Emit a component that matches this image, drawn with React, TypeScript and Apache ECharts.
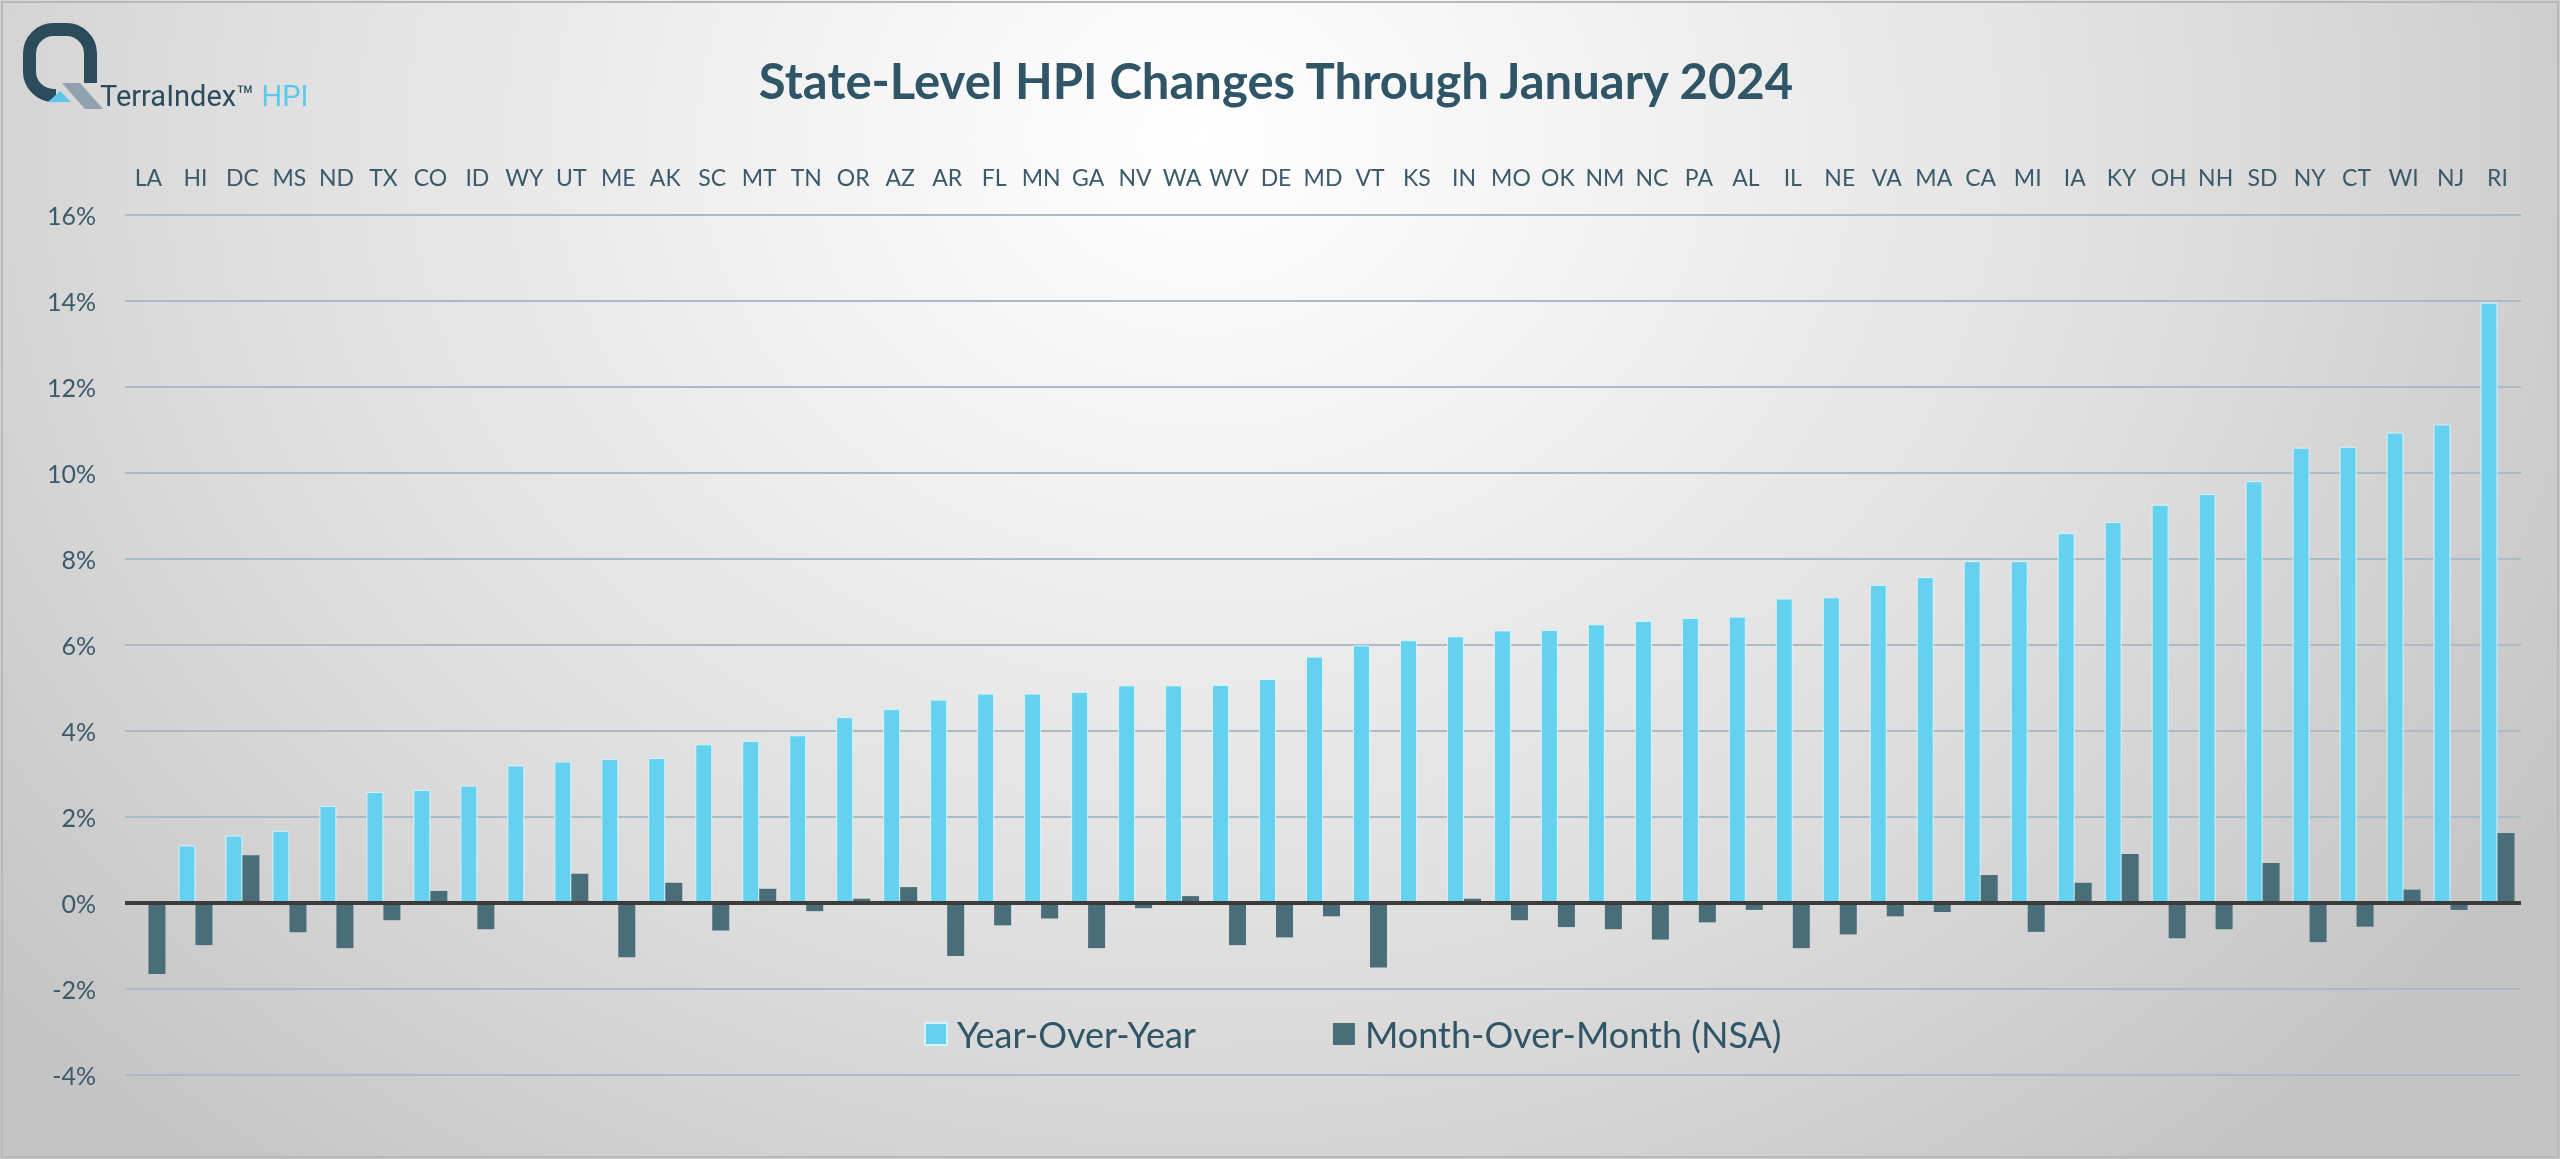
import React, { useEffect, useRef } from "react";
import * as echarts from "echarts";

const states = ["LA","HI","DC","MS","ND","TX","CO","ID","WY","UT","ME","AK","SC","MT","TN","OR","AZ","AR","FL","MN","GA","NV","WA","WV","DE","MD","VT","KS","IN","MO","OK","NM","NC","PA","AL","IL","NE","VA","MA","CA","MI","IA","KY","OH","NH","SD","NY","CT","WI","NJ","RI"];

const yoy = [0, 1.34, 1.57, 1.68, 2.26, 2.58, 2.63, 2.73, 3.2, 3.29, 3.35, 3.37, 3.69, 3.77, 3.9, 4.32, 4.51, 4.73, 4.87, 4.87, 4.91, 5.06, 5.06, 5.07, 5.21, 5.73, 5.99, 6.11, 6.2, 6.34, 6.35, 6.48, 6.56, 6.63, 6.66, 7.08, 7.11, 7.4, 7.58, 7.95, 7.95, 8.6, 8.86, 9.26, 9.51, 9.81, 10.59, 10.61, 10.94, 11.13, 13.96];

const mom = [-1.65, -0.98, 1.11, -0.68, -1.05, -0.4, 0.28, -0.61, 0, 0.68, -1.26, 0.47, -0.64, 0.33, -0.19, 0.1, 0.37, -1.23, -0.52, -0.36, -1.05, -0.12, 0.16, -0.98, -0.8, -0.31, -1.5, 0, 0.1, -0.4, -0.56, -0.61, -0.85, -0.45, -0.16, -1.05, -0.73, -0.31, -0.21, 0.65, -0.67, 0.47, 1.14, -0.82, -0.61, 0.93, -0.91, -0.55, 0.31, -0.16, 1.63];

const seriesNames = ["Year-Over-Year", "Month-Over-Month (NSA)"];
const yMin = -4;
const yMax = 16;
const yStep = 2;

const titleText = "State-Level HPI Changes Through January 2024";

const qPath =
  "M 56 95.5 L 53.5 95.5 A 24 24 0 0 1 29.5 71.5 L 29.5 53.5 A 24 24 0 0 1 53.5 29.5 L 66.5 29.5 A 24 24 0 0 1 90.5 53.5 L 90.5 83";

let registered = false;
function ensureShape() {
  if (registered) return;
  echarts.graphic.registerShape("qlogo", echarts.graphic.extendPath(qPath, {}));
  registered = true;
}

export default function App() {
  const ref = useRef<HTMLDivElement>(null);

  useEffect(() => {
    if (!ref.current) return;
    ensureShape();
    const chart = echarts.init(ref.current, null, { renderer: "svg" });
    const labelColor = "#3b5a6a";
    chart.setOption({
      animation: false,
      backgroundColor: "transparent",
      grid: { left: 125, right: 39, top: 215, bottom: 84, containLabel: false },
      legend: {
        data: seriesNames,
        left: 919,
        top: 1011,
        itemWidth: 22,
        itemHeight: 22,
        itemGap: 137,
        icon: "rect",
        textStyle: {
          fontFamily: "Lato",
          fontSize: 36,
          color: "#2f5567",
          padding: [0, 0, 0, 5],
        },
      },
      xAxis: {
        type: "category",
        position: "top",
        data: states,
        axisLine: { show: false },
        axisTick: { show: false },
        axisLabel: {
          interval: 0,
          margin: 27,
          fontFamily: "Lato",
          fontSize: 23,
          color: labelColor,
        },
      },
      yAxis: {
        type: "value",
        min: yMin,
        max: yMax,
        interval: yStep,
        axisLine: { show: false },
        axisTick: { show: false },
        axisLabel: {
          formatter: "{value}%",
          margin: 29,
          fontFamily: "Lato",
          fontSize: 25,
          color: labelColor,
        },
        splitLine: { lineStyle: { color: "#a9bcc6", width: 2 } },
      },
      series: [
        {
          name: seriesNames[0],
          type: "bar",
          data: yoy,
          barWidth: 17,
          barGap: "0%",
          itemStyle: { color: "#64d2ee", borderColor: "#d6f2fa", borderWidth: 1 },
        },
        {
          name: seriesNames[1],
          type: "bar",
          data: mom,
          barWidth: 17,
          barGap: "0%",
          itemStyle: { color: "#4a6d7a" },
          markLine: {
            silent: true,
            symbol: "none",
            label: { show: false },
            lineStyle: { color: "#3c3c3c", width: 4, type: "solid" },
            data: [{ yAxis: 0 }],
          },
        },
      ],
      graphic: [
        {
          type: "rect",
          shape: { x: 2, y: 2, width: 2556, height: 1155 },
          style: { fill: "none", stroke: "#b8b8b8", lineWidth: 2 },
          silent: true,
        },
        {
          type: "qlogo",
          x: 0,
          y: 0,
          style: { fill: "none", stroke: "#2c4b5d", lineWidth: 13 },
        },
        {
          type: "polygon",
          shape: { points: [[62, 83], [80, 83], [103, 109], [85, 109]] },
          style: { fill: "#8fa2ad" },
        },
        {
          type: "polygon",
          shape: { points: [[48, 102], [60, 91], [71, 102]] },
          style: { fill: "#5ec8ea" },
        },
        {
          type: "text",
          x: 100,
          y: 96,
          style: {
            text: "{a|TerraIndex™}{b| HPI}",
            verticalAlign: "middle",
            rich: {
              a: { fontFamily: "Roboto", fontSize: 29, fill: "#2c4b5d" },
              b: { fontFamily: "Roboto", fontSize: 29, fill: "#5ec8ea" },
            },
          },
        },
        {
          type: "text",
          x: 1276,
          y: 80,
          style: {
            text: titleText,
            fontFamily: "Lato",
            fontWeight: "bold",
            fontSize: 49,
            fill: "#2f5567",
            align: "center",
            verticalAlign: "middle",
          },
        },
      ],
    });
    return () => chart.dispose();
  }, []);

  return (
    <div
      ref={ref}
      style={{
        position: "fixed",
        left: 0,
        top: 0,
        width: "2560px",
        height: "1159px",
        background:
          "radial-gradient(ellipse 62% 115% at 47% 12%, #ffffff 0%, #f0f0f0 30%, #dcdcdc 65%, #c4c4c4 100%)",
      }}
    />
  );
}
